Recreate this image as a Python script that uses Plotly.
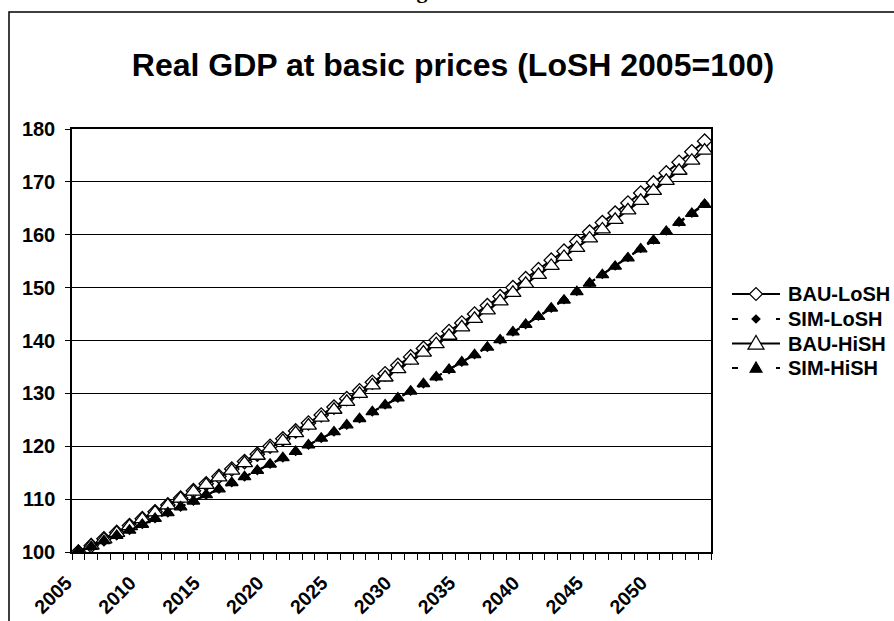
import plotly.graph_objects as go

# Years on the category axis
years = list(range(2005, 2055))

# Real GDP at basic prices, index LoSH 2005 = 100
bau_losh = [100.0, 101.2, 102.5, 103.7, 105.0, 106.3, 107.6, 108.9, 110.2, 111.6,
            112.9, 114.3, 115.7, 117.1, 118.5, 120.0, 121.4, 122.9, 124.4, 125.9,
            127.4, 129.0, 130.5, 132.1, 133.7, 135.3, 136.9, 138.5, 140.1, 141.7,
            143.3, 145.0, 146.6, 148.3, 150.0, 151.7, 153.4, 155.2, 156.9, 158.7,
            160.5, 162.3, 164.1, 166.0, 167.9, 169.8, 171.7, 173.7, 175.7, 177.7]

sim_losh = [100.0, 101.0, 102.1, 103.1, 104.1, 105.2, 106.3, 107.4, 108.5, 109.6,
            110.8, 111.9, 113.1, 114.2, 115.4, 116.6, 117.8, 119.0, 120.2, 121.5,
            122.7, 124.0, 125.2, 126.5, 127.8, 129.1, 130.4, 131.8, 133.1, 134.5,
            135.9, 137.3, 138.7, 140.1, 141.6, 143.0, 144.6, 146.1, 147.7, 149.3,
            150.9, 152.5, 154.1, 155.7, 157.4, 159.0, 160.7, 162.4, 164.1, 165.9]

bau_hish = [100.0, 101.2, 102.4, 103.6, 104.9, 106.2, 107.5, 108.8, 110.1, 111.4,
            112.7, 114.1, 115.4, 116.8, 118.2, 119.6, 121.0, 122.5, 123.9, 125.4,
            126.9, 128.4, 129.9, 131.5, 133.0, 134.6, 136.2, 137.7, 139.3, 140.9,
            142.5, 144.1, 145.7, 147.4, 149.0, 150.7, 152.4, 154.1, 155.8, 157.5,
            159.3, 161.0, 162.8, 164.6, 166.4, 168.3, 170.2, 172.1, 174.0, 175.9]

sim_hish = [100.0, 101.0, 102.1, 103.1, 104.1, 105.2, 106.3, 107.4, 108.5, 109.6,
            110.8, 111.9, 113.1, 114.2, 115.4, 116.6, 117.8, 119.0, 120.2, 121.5,
            122.7, 124.0, 125.2, 126.5, 127.8, 129.1, 130.4, 131.8, 133.1, 134.5,
            135.9, 137.3, 138.7, 140.1, 141.6, 143.0, 144.5, 146.1, 147.6, 149.2,
            150.8, 152.4, 154.0, 155.6, 157.3, 158.9, 160.6, 162.3, 164.0, 165.7]

series_names = ["BAU-LoSH", "SIM-LoSH", "BAU-HiSH", "SIM-HiSH"]
label_years = [2005, 2010, 2015, 2020, 2025, 2030, 2035, 2040, 2045, 2050]
y_ticks = [100, 110, 120, 130, 140, 150, 160, 170, 180]

FONT = "Liberation Sans, Arial, sans-serif"

# marker / line style per series
styles = [
    dict(symbol="diamond", size=11, fill="white", dash="solid"),
    dict(symbol="diamond", size=6, fill="black", dash="dash"),
    dict(symbol="triangle-up", size=14, fill="white", dash="solid"),
    dict(symbol="triangle-up", size=11, fill="black", dash="dash"),
]

fig = go.Figure()
for name, vals, st in zip(series_names, [bau_losh, sim_losh, bau_hish, sim_hish], styles):
    fig.add_trace(go.Scatter(
        x=years, y=vals, name=name, mode="lines+markers", showlegend=False,
        line=dict(color="black", width=2, dash=st["dash"]),
        marker=dict(symbol=st["symbol"], size=st["size"], color=st["fill"],
                    line=dict(color="black", width=1.3)),
    ))

# plot area geometry (pixels)
L, R, T, B = 72, 711, 129, 552
W, H = R - L, B - T


def px_x(p):
    return (p - L) / W


def px_y(p):
    return (B - p) / H


def path_px(points):
    parts = []
    for i, (x, y) in enumerate(points):
        parts.append(("M" if i == 0 else "L") + f"{px_x(x):.5f},{px_y(y):.5f}")
    return " ".join(parts) + " Z"


shapes = [dict(
    type="rect", xref="paper", yref="paper",
    x0=px_x(9), x1=px_x(905), y0=px_y(640), y1=px_y(12),
    line=dict(color="black", width=1.5), fillcolor="rgba(0,0,0,0)",
    layer="below",
)]
annotations = [dict(
    text="Figure 16", xref="paper", yref="paper",
    x=px_x(441), y=px_y(5), xanchor="center", yanchor="bottom",
    showarrow=False,
    font=dict(family="Liberation Serif, Times New Roman, serif",
              size=22, weight="bold", color="black"),
)]

# legend key drawn beside the plot area
leg_rows = [294, 319, 343.5, 368]
lx0, lx1, lmx, ltx = 732, 780, 756, 786
for name, st, cy in zip(series_names, styles, leg_rows):
    shapes.append(dict(
        type="line", xref="paper", yref="paper",
        x0=px_x(lx0), x1=px_x(lx1), y0=px_y(cy), y1=px_y(cy),
        line=dict(color="black", width=2,
                  dash="solid" if st["dash"] == "solid" else "6px,16px"),
    ))
    if st["symbol"] == "diamond":
        a = 6.5 if st["fill"] == "white" else 4
        pts = [(lmx - a, cy), (lmx, cy - a), (lmx + a, cy), (lmx, cy + a)]
    else:
        a = 8 if st["fill"] == "white" else 6
        pts = [(lmx - a, cy + 0.7 * a), (lmx, cy - a), (lmx + a, cy + 0.7 * a)]
    shapes.append(dict(
        type="path", xref="paper", yref="paper", path=path_px(pts),
        fillcolor=st["fill"], line=dict(color="black", width=1.2),
    ))
    annotations.append(dict(
        text=name, xref="paper", yref="paper",
        x=px_x(ltx), y=px_y(cy), xanchor="left", yanchor="middle",
        showarrow=False,
        font=dict(family=FONT, size=20, weight="bold", color="black"),
    ))

fig.update_layout(
    width=894, height=621,
    margin=dict(l=L, r=894 - R, t=T, b=621 - B, autoexpand=False),
    paper_bgcolor="white", plot_bgcolor="white",
    font=dict(family=FONT, color="black"),
    title=dict(
        text="Real GDP at basic prices (LoSH 2005=100)",
        font=dict(family=FONT, size=32, weight="bold", color="black"),
        x=453 / 894, xanchor="center", xref="container",
        y=1 - 65 / 621, yanchor="middle", yref="container",
        automargin=False,
    ),
    showlegend=False,
    xaxis=dict(
        range=[2004.5, 2054.5], automargin=False,
        tickmode="array", tickvals=label_years,
        ticktext=[str(v) for v in label_years],
        tickangle=-45, ticks="", ticklabelstandoff=10, ticklabelshift=-12,
        tickfont=dict(family=FONT, size=19.5, weight="bold", color="black"),
        minor=dict(tickmode="linear", tick0=2004.5, dtick=1, ticks="outside",
                   ticklen=6, tickcolor="black", tickwidth=1, showgrid=False),
        showgrid=False, zeroline=False,
        showline=True, linecolor="black", linewidth=1.5, mirror=True,
    ),
    yaxis=dict(
        range=[100, 180], automargin=False, tickmode="array", tickvals=y_ticks,
        ticks="outside", ticklen=5, tickcolor="black", tickwidth=1,
        ticklabelstandoff=6,
        tickfont=dict(family=FONT, size=20, weight="bold", color="black"),
        showgrid=True, gridcolor="black", gridwidth=1, zeroline=False,
        showline=True, linecolor="black", linewidth=1.5, mirror=True,
    ),
    shapes=shapes,
    annotations=annotations,
)

fig.write_html("out.html")
